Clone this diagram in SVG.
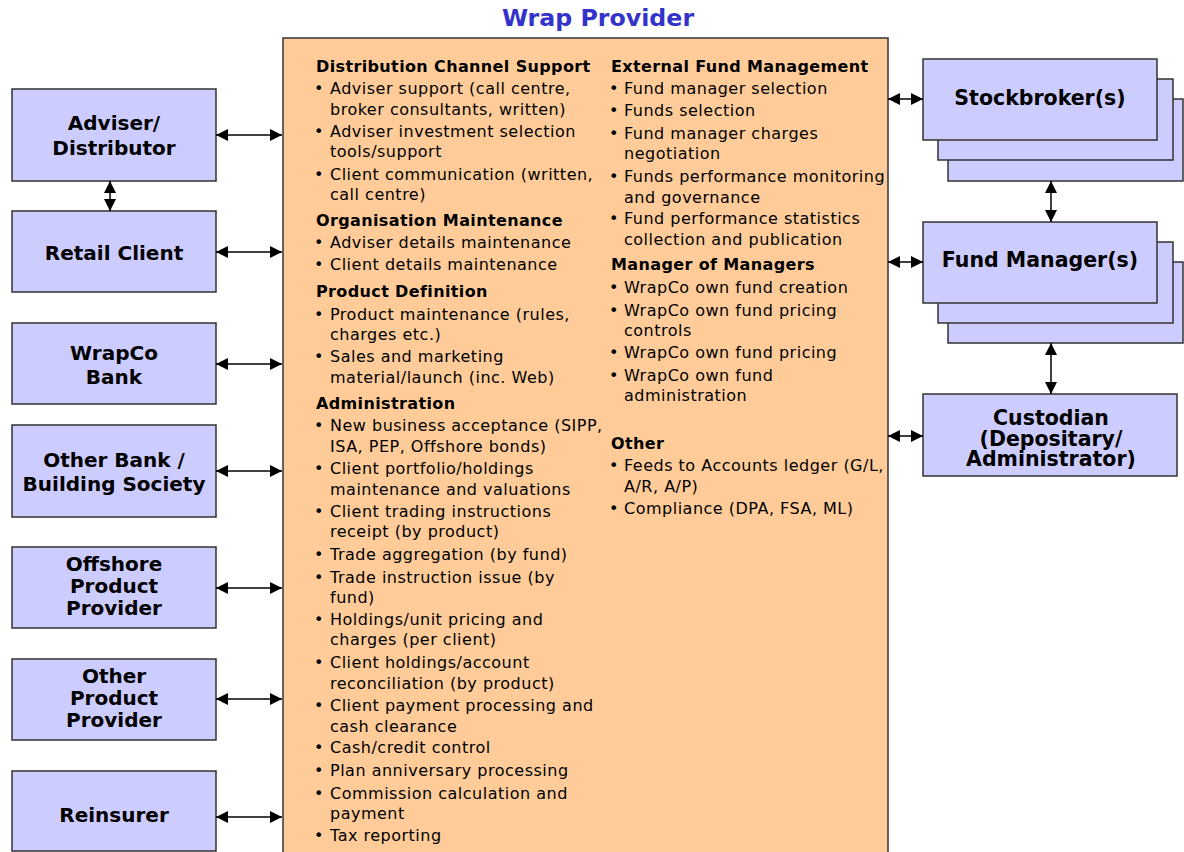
<svg xmlns="http://www.w3.org/2000/svg" width="1184" height="852" viewBox="0 0 1184 852">
<defs>
<marker id="ah" markerUnits="userSpaceOnUse" markerWidth="13" markerHeight="13" refX="12" refY="6.5" orient="auto-start-reverse">
<path d="M0,0.5 L12,6.5 L0,12.5 z" fill="#000"/>
</marker>
<style>
.box{fill:#ccccff;stroke:#333;stroke-width:1.5}
.main{fill:#ffcc99;stroke:#333;stroke-width:1.5}
.nt{font-family:"DejaVu Sans",Verdana,sans-serif;font-weight:bold;font-size:20px;fill:#000;text-anchor:middle}
.nr{font-size:20.5px}
.h{font-family:"DejaVu Sans",Verdana,sans-serif;font-weight:bold;font-size:16px;letter-spacing:0.37px;fill:#000}
.t{font-family:"DejaVu Sans",Verdana,sans-serif;font-size:16px;letter-spacing:0.5px;fill:#000}
.b{font-family:"DejaVu Sans",Verdana,sans-serif;font-size:16px;fill:#000}
.title{font-family:"DejaVu Sans",Verdana,sans-serif;font-weight:bold;font-size:23.7px;fill:#3333cc;text-anchor:middle}
.c{stroke:#000;stroke-width:1.5;fill:none;marker-start:url(#ah);marker-end:url(#ah)}
</style>
</defs>
<rect width="1184" height="852" fill="#fff"/>
<text class="title" x="598" y="26">Wrap Provider</text>

<g id="wrap-provider">
<rect class="main" x="283" y="38" width="605" height="830"/>
<g class="left-col">
<text class="h" x="316" y="72">Distribution Channel Support</text>
<text class="b" x="314" y="94">•</text><text class="t" x="330" y="94">Adviser support (call centre,</text>
<text class="t" x="330" y="115">broker consultants, written)</text>
<text class="b" x="314" y="137">•</text><text class="t" x="330" y="137">Adviser investment selection</text>
<text class="t" x="330" y="157">tools/support</text>
<text class="b" x="314" y="180">•</text><text class="t" x="330" y="180">Client communication (written,</text>
<text class="t" x="330" y="200">call centre)</text>
<text class="h" x="316" y="226">Organisation Maintenance</text>
<text class="b" x="314" y="248">•</text><text class="t" x="330" y="248">Adviser details maintenance</text>
<text class="b" x="314" y="270">•</text><text class="t" x="330" y="270">Client details maintenance</text>
<text class="h" x="316" y="297">Product Definition</text>
<text class="b" x="314" y="320">•</text><text class="t" x="330" y="320">Product maintenance (rules,</text>
<text class="t" x="330" y="340">charges etc.)</text>
<text class="b" x="314" y="362">•</text><text class="t" x="330" y="362">Sales and marketing</text>
<text class="t" x="330" y="383">material/launch (inc. Web)</text>
<text class="h" x="316" y="409">Administration</text>
<text class="b" x="314" y="431">•</text><text class="t" x="330" y="431">New business acceptance (SIPP,</text>
<text class="t" x="330" y="452">ISA, PEP, Offshore bonds)</text>
<text class="b" x="314" y="474">•</text><text class="t" x="330" y="474">Client portfolio/holdings</text>
<text class="t" x="330" y="495">maintenance and valuations</text>
<text class="b" x="314" y="517">•</text><text class="t" x="330" y="517">Client trading instructions</text>
<text class="t" x="330" y="537">receipt (by product)</text>
<text class="b" x="314" y="560">•</text><text class="t" x="330" y="560">Trade aggregation (by fund)</text>
<text class="b" x="314" y="583">•</text><text class="t" x="330" y="583">Trade instruction issue (by</text>
<text class="t" x="330" y="603">fund)</text>
<text class="b" x="314" y="625">•</text><text class="t" x="330" y="625">Holdings/unit pricing and</text>
<text class="t" x="330" y="645">charges (per client)</text>
<text class="b" x="314" y="668">•</text><text class="t" x="330" y="668">Client holdings/account</text>
<text class="t" x="330" y="689">reconciliation (by product)</text>
<text class="b" x="314" y="711">•</text><text class="t" x="330" y="711">Client payment processing and</text>
<text class="t" x="330" y="732">cash clearance</text>
<text class="b" x="314" y="753">•</text><text class="t" x="330" y="753">Cash/credit control</text>
<text class="b" x="314" y="776">•</text><text class="t" x="330" y="776">Plan anniversary processing</text>
<text class="b" x="314" y="799">•</text><text class="t" x="330" y="799">Commission calculation and</text>
<text class="t" x="330" y="819">payment</text>
<text class="b" x="314" y="841">•</text><text class="t" x="330" y="841">Tax reporting</text>
</g>
<g class="right-col">
<text class="h" x="611" y="72">External Fund Management</text>
<text class="b" x="609" y="94">•</text><text class="t" x="624" y="94">Fund manager selection</text>
<text class="b" x="609" y="116">•</text><text class="t" x="624" y="116">Funds selection</text>
<text class="b" x="609" y="139">•</text><text class="t" x="624" y="139">Fund manager charges</text>
<text class="t" x="624" y="159">negotiation</text>
<text class="b" x="609" y="182">•</text><text class="t" x="624" y="182">Funds performance monitoring</text>
<text class="t" x="624" y="203">and governance</text>
<text class="b" x="609" y="224">•</text><text class="t" x="624" y="224">Fund performance statistics</text>
<text class="t" x="624" y="245">collection and publication</text>
<text class="h" x="611" y="270">Manager of Managers</text>
<text class="b" x="609" y="293">•</text><text class="t" x="624" y="293">WrapCo own fund creation</text>
<text class="b" x="609" y="316">•</text><text class="t" x="624" y="316">WrapCo own fund pricing</text>
<text class="t" x="624" y="336">controls</text>
<text class="b" x="609" y="358">•</text><text class="t" x="624" y="358">WrapCo own fund pricing</text>
<text class="b" x="609" y="381">•</text><text class="t" x="624" y="381">WrapCo own fund</text>
<text class="t" x="624" y="401">administration</text>
<text class="h" x="611" y="449">Other</text>
<text class="b" x="609" y="471">•</text><text class="t" x="624" y="471">Feeds to Accounts ledger (G/L,</text>
<text class="t" x="624" y="492">A/R, A/P)</text>
<text class="b" x="609" y="514">•</text><text class="t" x="624" y="514">Compliance (DPA, FSA, ML)</text>
</g>
</g>

<g id="adviser"><rect class="box" x="12" y="89" width="204" height="92"/><text class="nt" x="114" y="130">Adviser/</text><text class="nt" x="114" y="155">Distributor</text></g>
<g id="retail-client"><rect class="box" x="12" y="211" width="204" height="81"/><text class="nt" x="114" y="260">Retail Client</text></g>
<g id="wrapco-bank"><rect class="box" x="12" y="323" width="204" height="81"/><text class="nt" x="114" y="360">WrapCo</text><text class="nt" x="114" y="384">Bank</text></g>
<g id="other-bank"><rect class="box" x="12" y="425" width="204" height="92"/><text class="nt" x="114" y="467">Other Bank /</text><text class="nt" x="114" y="491">Building Society</text></g>
<g id="offshore"><rect class="box" x="12" y="547" width="204" height="81"/><text class="nt" x="114" y="571">Offshore</text><text class="nt" x="114" y="593">Product</text><text class="nt" x="114" y="615">Provider</text></g>
<g id="other-product"><rect class="box" x="12" y="659" width="204" height="81"/><text class="nt" x="114" y="683">Other</text><text class="nt" x="114" y="705">Product</text><text class="nt" x="114" y="727">Provider</text></g>
<g id="reinsurer"><rect class="box" x="12" y="771" width="204" height="80"/><text class="nt" x="114" y="822">Reinsurer</text></g>

<g id="stockbroker">
<rect class="box" x="948" y="99" width="235" height="82"/>
<rect class="box" x="938" y="79" width="235" height="81"/>
<rect class="box" x="923" y="59" width="234" height="81"/>
<text class="nt nr" x="1040" y="105">Stockbroker(s)</text>
</g>
<g id="fund-manager">
<rect class="box" x="948" y="262" width="235" height="81"/>
<rect class="box" x="938" y="242" width="235" height="81"/>
<rect class="box" x="923" y="222" width="234" height="81"/>
<text class="nt nr" x="1040" y="267">Fund Manager(s)</text>
</g>
<g id="custodian">
<rect class="box" x="923" y="394" width="254" height="82"/>
<text class="nt nr" x="1051" y="425">Custodian</text>
<text class="nt nr" x="1051" y="446">(Depositary/</text>
<text class="nt nr" x="1051" y="466">Administrator)</text>
</g>

<g id="connectors">
<line class="c" x1="216" y1="135" x2="282" y2="135"/>
<line class="c" x1="216" y1="252" x2="282" y2="252"/>
<line class="c" x1="216" y1="364" x2="282" y2="364"/>
<line class="c" x1="216" y1="471" x2="282" y2="471"/>
<line class="c" x1="216" y1="588" x2="282" y2="588"/>
<line class="c" x1="216" y1="699" x2="282" y2="699"/>
<line class="c" x1="216" y1="817" x2="282" y2="817"/>
<line class="c" x1="110" y1="181" x2="110" y2="211"/>
<line class="c" x1="888" y1="99" x2="923" y2="99"/>
<line class="c" x1="888" y1="262" x2="923" y2="262"/>
<line class="c" x1="888" y1="436" x2="923" y2="436"/>
<line class="c" x1="1051" y1="181" x2="1051" y2="222"/>
<line class="c" x1="1051" y1="343" x2="1051" y2="394"/>
</g>
</svg>
